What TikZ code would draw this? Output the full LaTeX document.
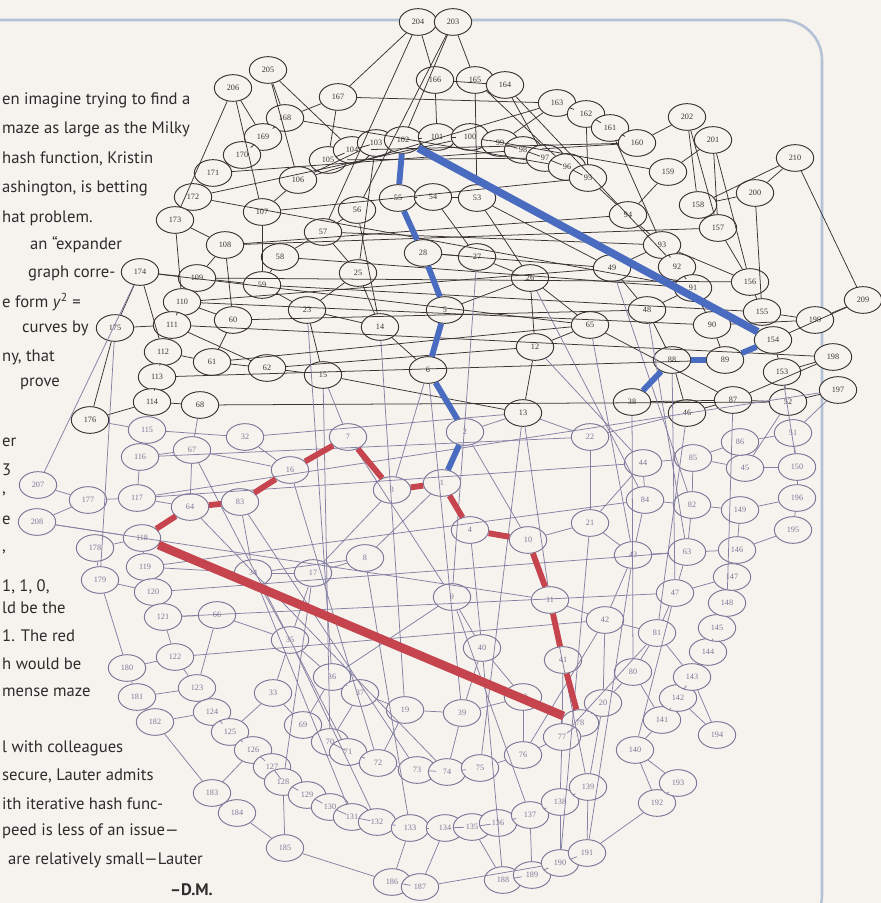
\documentclass[tikz,border=0pt]{standalone}
\usepackage{fontspec}
\usepackage{tikz}
\usetikzlibrary{shapes.geometric}
\newfontfamily\bodyfont{PT Sans}
\newfontfamily\labelfamily{Liberation Serif}
\definecolor{paper}{HTML}{F6F3EE}
\definecolor{framecol}{HTML}{B4C2D6}
\definecolor{lineA}{HTML}{3A3434}
\definecolor{lineB}{HTML}{8581A4}
\definecolor{nodeA}{HTML}{3A3434}
\definecolor{nodeB}{HTML}{7B7899}
\definecolor{pathblue}{HTML}{4A6CC0}
\definecolor{pathred}{HTML}{C5444E}
\definecolor{textgrey}{HTML}{2C2C2C}

\begin{document}
\begin{tikzpicture}[x=0.03cm, y=-0.03cm,
    vx/.style={ellipse, draw=nodeA, fill=paper, text=nodeA, line width=0.8pt,
               minimum width=1.12cm, minimum height=0.8cm, inner sep=0pt,
               font=\labelfamily\fontsize{7}{8}\selectfont},
    vxb/.style={vx, draw=nodeB, text=nodeB},
    edgeA/.style={draw=lineA, line width=0.65pt},
    edgeB/.style={draw=lineB, line width=0.65pt},
    bluepath/.style={draw=pathblue, line width=5pt},
    redpath/.style={draw=pathred, line width=5pt},
    txt/.style={anchor=west, inner sep=0pt, text=textgrey,
                font=\bodyfont\fontsize{14.2}{16}\selectfont}]

    \useasboundingbox (0,0) rectangle (881,903);
    \clip (0,0) rectangle (881,903);
    \fill[paper] (0,0) rectangle (881,903);
    \draw[framecol, line width=2.2pt, rounded corners=1.2cm]
        (-20,20) -- (822,20) -- (822,935) -- (-20,935);

    % Text column
    \node[txt] (t1) at (2,100) {en imagine trying to find a};
    \node[txt] (t2) at (2,129) {maze as large as the Milky};
    \node[txt] (t3) at (2,159) {hash function, Kristin};
    \node[txt] (t4) at (2,188) {ashington, is betting};
    \node[txt] (t5) at (2,218) {hat problem.};
    \node[txt] (t6) at (30,245) {an “expander};
    \node[txt] (t7) at (28,273) {graph corre-};
    \node[txt] (t8) at (2,302) {e form \textit{y}\textsuperscript{2} =};
    \node[txt] (t9) at (22,328) {curves by};
    \node[txt] (t10) at (2,357) {ny, that};
    \node[txt] (t11) at (20,384) {prove};
    \node[txt] (t12) at (2,442) {er};
    \node[txt] (t13) at (2,470) {3};
    \node[txt] (t14) at (2,494) {,};
    \node[txt] (t15) at (2,520) {e};
    \node[txt] (t16) at (2,552) {,};
    \node[txt] (t17) at (2,587) {1, 1, 0,};
    \node[txt] (t18) at (2,608) {ld be the};
    \node[txt] (t19) at (2,636) {1. The red};
    \node[txt] (t20) at (2,664) {h would be};
    \node[txt] (t21) at (2,692) {mense maze};
    \node[txt] (t22) at (2,748) {l with colleagues};
    \node[txt] (t23) at (2,776) {secure, Lauter admits};
    \node[txt] (t24) at (2,804) {ith iterative hash func-};
    \node[txt] (t25) at (2,831) {peed is less of an issue—};
    \node[txt] (t26) at (8,860) {are relatively small—Lauter};
    \node[txt, anchor=east, font=\bodyfont\bfseries\fontsize{14.2}{16}\selectfont] (t27) at (213,890) {–D.M.};

    % Nodes, upper part
    \node[vx] (204) at (418,22) {204};
    \node[vx] (203) at (453,22) {203};
    \node[vx] (205) at (268,70) {205};
    \node[vx] (206) at (233,88) {206};
    \node[vx] (167) at (338,97) {167};
    \node[vx] (166) at (435,80) {166};
    \node[vx] (165) at (475,80) {165};
    \node[vx] (164) at (505,85) {164};
    \node[vx] (163) at (557,103) {163};
    \node[vx] (162) at (586,114) {162};
    \node[vx] (161) at (610,128) {161};
    \node[vx] (160) at (637,143) {160};
    \node[vx] (202) at (687,117) {202};
    \node[vx] (201) at (713,140) {201};
    \node[vx] (210) at (795,158) {210};
    \node[vx] (159) at (668,172) {159};
    \node[vx] (200) at (755,193) {200};
    \node[vx] (158) at (698,205) {158};
    \node[vx] (157) at (718,228) {157};
    \node[vx] (168) at (285,118) {168};
    \node[vx] (169) at (263,137) {169};
    \node[vx] (170) at (242,155) {170};
    \node[vx] (171) at (213,173) {171};
    \node[vx] (172) at (193,197) {172};
    \node[vx] (173) at (175,220) {173};
    \node[vx] (107) at (262,212) {107};
    \node[vx] (106) at (298,180) {106};
    \node[vx] (105) at (328,160) {105};
    \node[vx] (104) at (352,150) {104};
    \node[vx] (103) at (376,143) {103};
    \node[vx] (102) at (403,140) {102};
    \node[vx] (101) at (437,137) {101};
    \node[vx] (100) at (470,137) {100};
    \node[vx] (99) at (500,143) {99};
    \node[vx] (98) at (523,150) {98};
    \node[vx] (97) at (545,158) {97};
    \node[vx] (96) at (567,167) {96};
    \node[vx] (95) at (588,178) {95};
    \node[vx] (94) at (628,215) {94};
    \node[vx] (93) at (662,245) {93};
    \node[vx] (92) at (677,267) {92};
    \node[vx] (55) at (398,198) {55};
    \node[vx] (54) at (433,197) {54};
    \node[vx] (53) at (477,198) {53};
    \node[vx] (56) at (357,210) {56};
    \node[vx] (57) at (323,232) {57};
    \node[vx] (108) at (225,245) {108};
    \node[vx] (174) at (140,272) {174};
    \node[vx] (109) at (197,278) {109};
    \node[vx] (58) at (280,257) {58};
    \node[vx] (59) at (262,285) {59};
    \node[vx] (110) at (182,302) {110};
    \node[vx] (175) at (115,328) {175};
    \node[vx] (111) at (172,325) {111};
    \node[vx] (60) at (233,320) {60};
    \node[vx] (112) at (163,352) {112};
    \node[vx] (61) at (212,362) {61};
    \node[vx] (62) at (267,368) {62};
    \node[vx] (113) at (157,377) {113};
    \node[vx] (114) at (152,402) {114};
    \node[vx] (68) at (200,405) {68};
    \node[vx] (176) at (90,420) {176};
    \node[vx] (49) at (612,268) {49};
    \node[vx] (48) at (647,310) {48};
    \node[vx] (65) at (590,325) {65};
    \node[vx] (91) at (693,288) {91};
    \node[vx] (156) at (750,282) {156};
    \node[vx] (155) at (762,312) {155};
    \node[vx] (209) at (863,300) {209};
    \node[vx] (199) at (815,320) {199};
    \node[vx] (90) at (712,325) {90};
    \node[vx] (154) at (773,340) {154};
    \node[vx] (198) at (833,357) {198};
    \node[vx] (153) at (782,372) {153};
    \node[vx] (89) at (725,360) {89};
    \node[vx] (88) at (672,360) {88};
    \node[vx] (38) at (632,402) {38};
    \node[vx] (87) at (733,400) {87};
    \node[vx] (52) at (788,402) {52};
    \node[vx] (197) at (838,390) {197};
    \node[vx] (46) at (687,413) {46};
    \node[vx] (28) at (423,253) {28};
    \node[vx] (27) at (477,257) {27};
    \node[vx] (25) at (358,273) {25};
    \node[vx] (26) at (530,278) {26};
    \node[vx] (23) at (307,310) {23};
    \node[vx] (14) at (380,327) {14};
    \node[vx] (5) at (445,310) {5};
    \node[vx] (12) at (535,347) {12};
    \node[vx] (15) at (323,375) {15};
    \node[vx] (6) at (428,370) {6};
    \node[vx] (13) at (523,413) {13};

    % Nodes, lower part
    \node[vxb] (115) at (147,430) {115};
    \node[vxb] (32) at (245,437) {32};
    \node[vxb] (116) at (140,457) {116};
    \node[vxb] (67) at (192,450) {67};
    \node[vxb] (207) at (38,485) {207};
    \node[vxb] (177) at (88,500) {177};
    \node[vxb] (117) at (137,498) {117};
    \node[vxb] (64) at (190,507) {64};
    \node[vxb] (83) at (240,502) {83};
    \node[vxb] (16) at (290,470) {16};
    \node[vxb] (208) at (37,522) {208};
    \node[vxb] (118) at (142,538) {118};
    \node[vxb] (178) at (95,548) {178};
    \node[vxb] (119) at (145,567) {119};
    \node[vxb] (179) at (100,580) {179};
    \node[vxb] (120) at (153,592) {120};
    \node[vxb] (121) at (163,617) {121};
    \node[vxb] (66) at (217,615) {66};
    \node[vxb] (34) at (253,573) {34};
    \node[vxb] (122) at (175,657) {122};
    \node[vxb] (180) at (127,668) {180};
    \node[vxb] (181) at (137,697) {181};
    \node[vxb] (182) at (155,722) {182};
    \node[vxb] (123) at (197,688) {123};
    \node[vxb] (124) at (212,712) {124};
    \node[vxb] (125) at (230,732) {125};
    \node[vxb] (126) at (253,750) {126};
    \node[vxb] (127) at (272,767) {127};
    \node[vxb] (128) at (283,782) {128};
    \node[vxb] (129) at (307,795) {129};
    \node[vxb] (130) at (330,807) {130};
    \node[vxb] (131) at (352,817) {131};
    \node[vxb] (132) at (377,822) {132};
    \node[vxb] (133) at (410,828) {133};
    \node[vxb] (134) at (445,828) {134};
    \node[vxb] (135) at (472,827) {135};
    \node[vxb] (136) at (498,823) {136};
    \node[vxb] (137) at (530,815) {137};
    \node[vxb] (138) at (560,802) {138};
    \node[vxb] (183) at (212,793) {183};
    \node[vxb] (184) at (237,813) {184};
    \node[vxb] (185) at (285,848) {185};
    \node[vxb] (186) at (392,882) {186};
    \node[vxb] (187) at (420,887) {187};
    \node[vxb] (188) at (503,880) {188};
    \node[vxb] (189) at (532,875) {189};
    \node[vxb] (190) at (560,863) {190};
    \node[vxb] (191) at (587,853) {191};
    \node[vxb] (192) at (657,803) {192};
    \node[vxb] (193) at (678,783) {193};
    \node[vxb] (194) at (717,735) {194};
    \node[vxb] (140) at (635,750) {140};
    \node[vxb] (139) at (588,787) {139};
    \node[vxb] (141) at (662,720) {141};
    \node[vxb] (142) at (678,698) {142};
    \node[vxb] (143) at (692,677) {143};
    \node[vxb] (144) at (708,652) {144};
    \node[vxb] (145) at (717,628) {145};
    \node[vxb] (148) at (727,603) {148};
    \node[vxb] (147) at (732,577) {147};
    \node[vxb] (146) at (737,550) {146};
    \node[vxb] (149) at (740,510) {149};
    \node[vxb] (196) at (797,498) {196};
    \node[vxb] (195) at (793,530) {195};
    \node[vxb] (150) at (797,467) {150};
    \node[vxb] (45) at (745,468) {45};
    \node[vxb] (86) at (740,442) {86};
    \node[vxb] (51) at (793,433) {51};
    \node[vxb] (22) at (590,437) {22};
    \node[vxb] (85) at (693,458) {85};
    \node[vxb] (44) at (643,463) {44};
    \node[vxb] (84) at (645,500) {84};
    \node[vxb] (82) at (692,505) {82};
    \node[vxb] (21) at (590,523) {21};
    \node[vxb] (43) at (633,555) {43};
    \node[vxb] (63) at (687,552) {63};
    \node[vxb] (47) at (675,593) {47};
    \node[vxb] (42) at (605,620) {42};
    \node[vxb] (81) at (657,633) {81};
    \node[vxb] (80) at (633,672) {80};
    \node[vxb] (20) at (603,703) {20};
    \node[vxb] (41) at (563,660) {41};
    \node[vxb] (78) at (580,723) {78};
    \node[vxb] (77) at (562,737) {77};
    \node[vxb] (2) at (465,432) {2};
    \node[vxb] (7) at (348,437) {7};
    \node[vxb] (3) at (392,490) {3};
    \node[vxb] (1) at (442,483) {1};
    \node[vxb] (4) at (470,530) {4};
    \node[vxb] (10) at (528,540) {10};
    \node[vxb] (8) at (365,558) {8};
    \node[vxb] (17) at (313,573) {17};
    \node[vxb] (9) at (452,597) {9};
    \node[vxb] (11) at (550,600) {11};
    \node[vxb] (40) at (482,648) {40};
    \node[vxb] (35) at (290,640) {35};
    \node[vxb] (36) at (332,677) {36};
    \node[vxb] (37) at (360,693) {37};
    \node[vxb] (19) at (405,710) {19};
    \node[vxb] (39) at (462,713) {39};
    \node[vxb] (30) at (523,697) {30};
    \node[vxb] (69) at (303,725) {69};
    \node[vxb] (70) at (330,742) {70};
    \node[vxb] (71) at (348,752) {71};
    \node[vxb] (72) at (378,763) {72};
    \node[vxb] (73) at (417,770) {73};
    \node[vxb] (74) at (447,772) {74};
    \node[vxb] (75) at (480,768) {75};
    \node[vxb] (76) at (523,755) {76};
    \node[vxb] (33) at (273,693) {33};

    % Edges, upper part
    \foreach \a/\b in {204/167,204/166,204/57,203/165,203/102,203/56,
        205/168,205/104,205/106,206/169,206/107,206/173,167/105,167/163,
        167/168,166/101,166/164,165/53,165/96,164/97,164/92,163/162,163/99,
        162/161,162/95,161/160,161/93,160/202,160/98,202/158,202/157,
        201/159,201/157,201/156,210/158,210/209,210/200,159/94,159/100,
        200/158,200/155,157/108,168/169,168/96,169/170,170/171,171/172,
        171/98,172/173,172/100,173/108,173/110,107/106,107/59,107/95,
        106/103,105/104,105/97,104/103,103/25,102/101,102/55,102/154,
        101/100,100/99,99/98,98/97,97/96,96/95,95/94,55/54,55/28,54/53,
        54/27,53/26,53/49,56/57,56/14,57/58,57/25,108/109,108/60,174/109,
        174/175,174/112,109/59,58/59,58/91,59/23,110/111,110/60,110/90,
        175/111,175/176,111/62,60/61,60/48,112/113,112/61,61/62,61/65,
        62/15,62/12,113/114,113/89,114/68,114/176,68/52,49/48,49/93,49/28,
        48/91,48/88,65/12,65/87,65/26,91/92,91/90,92/93,93/94,156/155,
        156/157,156/93,155/199,209/199,209/154,199/90,154/153,154/89,
        198/153,198/87,198/111,153/52,89/88,89/90,88/38,88/46,38/87,87/52,
        87/46,52/197,28/27,28/5,27/26,25/23,25/14,26/12,26/5,23/15,23/14,
        14/6,5/6,12/13,15/13,108/94,57/93,104/160,106/163,110/49,174/65,
        109/156,59/155,172/91}
        \draw[edgeA] (\a) -- (\b);

    % Edges, lower part
    \foreach \a/\b in {6/2,6/3,13/2,13/11,13/22,2/1,2/10,7/16,7/3,7/9,
        7/15,1/3,1/4,1/8,3/17,4/10,4/40,27/9,10/11,10/21,8/17,8/34,17/34,
        17/35,9/40,9/36,11/41,11/42,40/39,40/30,21/43,21/22,22/46,115/116,
        115/32,115/176,32/16,32/13,116/67,116/117,67/64,67/16,68/67,
        207/177,207/174,177/208,177/117,117/64,64/83,64/118,83/16,83/34,
        208/118,208/11,118/178,118/119,118/78,178/179,119/120,119/34,
        179/120,179/180,175/179,120/121,121/122,121/66,66/35,66/123,34/35,
        122/123,122/180,180/181,35/36,197/51,197/117,51/150,51/86,86/85,
        86/45,150/196,150/45,45/85,85/44,85/82,44/84,44/21,84/82,84/43,
        82/149,82/63,149/196,149/146,196/195,195/146,146/147,146/63,43/63,
        43/42,63/47,147/148,147/47,47/81,148/145,42/81,42/20,81/80,81/143,
        145/144,144/143,143/142,142/141,141/140,140/193,140/192,193/192,
        194/142,194/143,80/20,80/141,20/78,20/139,192/191,139/191,139/138,
        191/190,190/189,189/188,41/78,41/77,77/78,77/76,77/138,36/37,36/69,
        37/19,37/70,19/39,19/72,39/30,39/74,30/76,69/70,70/71,71/72,72/73,
        73/74,74/75,75/76,181/182,181/123,182/124,182/183,123/124,124/125,
        125/126,126/127,127/128,128/129,129/130,130/131,131/132,132/133,
        133/134,134/135,135/136,136/137,137/138,183/184,183/126,184/185,
        185/186,185/128,186/187,186/133,187/134,187/190,188/135,189/137,
        190/138,33/125,33/69,33/35,116/22,117/44,119/84,120/63,121/47,
        122/42,16/72,67/71,64/74,83/73,34/131,35/132,8/133,17/128,9/137,
        40/188,11/139,21/190,43/191,47/140,42/76,81/77,15/70,23/36,14/19,
        6/39,13/75,12/44,65/43,26/84,49/82,48/63,88/47,46/81,87/148,38/80,
        52/45,153/150}
        \draw[edgeB] (\a) -- (\b);

    % Blue path
    \draw[bluepath, line width=6.5pt] (102) -- (154);
    \foreach \a/\b in {102/55,55/28,28/5,5/6,6/2,2/1,154/89,89/88,88/38}
        \draw[bluepath] (\a) -- (\b);

    % Red path
    \draw[redpath, line width=7.5pt] (78) -- (118);
    \foreach \a/\b in {118/64,64/83,83/16,16/7,7/3,3/1,1/4,4/10,10/11,11/41,41/78}
        \draw[redpath] (\a) -- (\b);
\end{tikzpicture}
\end{document}
